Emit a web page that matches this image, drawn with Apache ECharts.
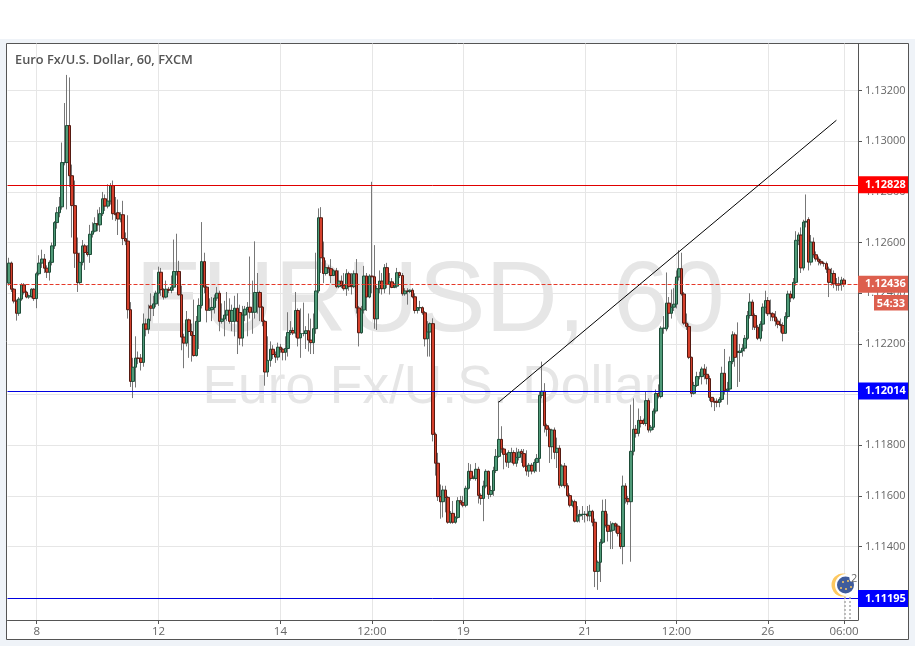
<!DOCTYPE html>
<html><head><meta charset="utf-8">
<style>html,body{margin:0;padding:0;background:#eff3f8}#c{width:915px;height:646px}</style>
<script src="https://cdn.jsdelivr.net/npm/echarts@6/dist/echarts.min.js"></script>
</head><body><div id="c"></div>
<script>
// Prices are written as points of 0.00001 above 1.10000 (2519 = 1.12519)
const opens=[2440,2519,2416,2369,2321,2377,2433,2404,2385,2387,
2416,2379,2477,2519,2535,2499,2483,2522,2587,2679,
2718,2741,2916,2916,3062,2864,2746,2558,2442,2522,
2587,2561,2553,2633,2645,2675,2670,2714,2773,2744,
2764,2825,2714,2718,2693,2710,2616,2606,2335,2052,
2108,2144,2144,2127,2279,2258,2350,2341,2358,2400,
2483,2414,2385,2416,2411,2424,2486,2486,2394,2227,
2203,2295,2249,2233,2154,2289,2352,2525,2424,2333,
2335,2344,2381,2400,2289,2298,2314,2333,2289,2289,
2341,2324,2223,2314,2337,2345,2325,2325,2403,2403,
2345,2289,2089,2135,2179,2158,2148,2187,2179,2167,
2182,2245,2253,2243,2332,2224,2241,2241,2252,2215,
2205,2260,2409,2698,2540,2478,2501,2497,2470,2489,
2426,2448,2430,2418,2477,2431,2426,2477,2342,2244,
2334,2468,2385,2468,2465,2299,2418,2448,2418,2501,
2435,2445,2423,2428,2481,2470,2398,2409,2407,2412,
2386,2332,2343,2343,2323,2220,2247,2280,1843,1729,
1597,1577,1623,1594,1496,1531,1496,1515,1581,1573,
1563,1630,1697,1669,1669,1705,1602,1590,1639,1697,
1606,1621,1700,1756,1823,1785,1764,1733,1771,1771,
1729,1752,1776,1767,1717,1698,1721,1698,1732,1748,
1997,2013,1877,1863,1794,1860,1772,1788,1642,1718,
1640,1601,1563,1577,1500,1521,1527,1527,1528,1521,
1539,1496,1302,1338,1417,1539,1484,1460,1464,1490,
1481,1452,1400,1639,1589,1577,1776,1863,1847,1898,
1897,1886,1976,1860,1871,1935,2004,1992,2262,2259,
2361,2321,2345,2357,2464,2497,2397,2282,2269,2147,
2005,2036,2071,2071,2101,2080,2063,1989,1972,1974,
1969,1981,2084,2015,2022,2130,2236,2170,2166,2172,
2183,2222,2312,2365,2312,2266,2222,2278,2345,2371,
2321,2319,2306,2290,2277,2273,2242,2308,2397,2381,
2443,2609,2630,2500,2681,2691,2523,2602,2552,2535,
2526,2519,2517,2495,2443,2478,2437,2437,2437,2452];
const closes=[2519,2416,2369,2321,2377,2433,2404,2385,2390,2416,
2379,2477,2519,2535,2499,2483,2522,2587,2679,2718,
2741,2916,2916,3062,2864,2746,2558,2442,2522,2587,
2561,2553,2633,2645,2675,2670,2714,2773,2744,2764,
2825,2714,2710,2693,2710,2616,2606,2335,2052,2108,
2144,2143,2127,2279,2258,2298,2341,2358,2400,2483,
2414,2385,2416,2411,2424,2486,2486,2394,2227,2203,
2295,2249,2233,2154,2289,2352,2525,2424,2333,2341,
2344,2381,2400,2289,2298,2314,2333,2289,2332,2341,
2289,2223,2314,2337,2344,2325,2325,2403,2403,2345,
2289,2089,2135,2179,2158,2148,2187,2179,2167,2182,
2245,2253,2243,2332,2223,2241,2241,2252,2215,2205,
2260,2409,2698,2540,2478,2501,2497,2470,2489,2426,
2448,2430,2418,2477,2426,2426,2477,2342,2244,2334,
2468,2385,2468,2465,2299,2418,2448,2418,2501,2435,
2445,2423,2428,2481,2470,2398,2409,2407,2412,2386,
2332,2343,2343,2323,2220,2247,2280,1843,1729,1597,
1577,1623,1594,1496,1531,1496,1514,1581,1573,1563,
1630,1697,1669,1671,1705,1602,1590,1639,1697,1606,
1621,1700,1756,1823,1785,1764,1733,1771,1771,1729,
1752,1773,1767,1717,1698,1721,1698,1732,1748,1997,
2013,1877,1863,1794,1860,1772,1788,1642,1718,1640,
1601,1563,1577,1500,1521,1527,1527,1527,1521,1539,
1496,1302,1338,1417,1539,1484,1460,1464,1490,1481,
1452,1400,1639,1589,1577,1776,1863,1847,1898,1886,
1886,1976,1860,1871,1935,2004,1994,2262,2262,2361,
2321,2345,2357,2464,2497,2397,2282,2269,2147,2005,
2036,2071,2071,2101,2080,2063,1989,1972,1970,1969,
1981,2084,2015,2022,2130,2236,2147,2166,2172,2183,
2222,2312,2365,2312,2266,2222,2278,2345,2371,2319,
2319,2306,2290,2277,2273,2242,2308,2397,2381,2443,
2609,2630,2500,2681,2684,2523,2602,2552,2535,2526,
2519,2517,2495,2443,2478,2437,2432,2432,2452,2436];
const lows=[2430,2405,2360,2292,2311,2370,2395,2380,2378,2380,
2370,2341,2470,2500,2480,2460,2450,2510,2575,2655,
2700,2730,2905,2731,2820,2620,2500,2405,2435,2510,
2492,2545,2520,2620,2640,2645,2642,2705,2725,2735,
2750,2690,2685,2630,2680,2590,2590,2300,2030,1986,
2028,2120,2095,2110,2230,2240,2290,2310,2345,2350,
2390,2375,2380,2400,2400,2410,2470,2390,2175,2104,
2190,2145,2130,2150,2150,2180,2340,2400,2285,2330,
2290,2320,2370,2250,2280,2230,2290,2280,2250,2230,
2160,2195,2190,2290,2230,2300,2240,2300,2320,2290,
2270,2035,2070,2110,2140,2125,2135,2165,2135,2135,
2150,2235,2235,2225,2190,2145,2230,2180,2170,2160,
2160,2240,2400,2480,2440,2470,2480,2440,2470,2420,
2420,2420,2410,2390,2410,2395,2420,2320,2190,2240,
2320,2330,2380,2400,2260,2255,2400,2395,2400,2420,
2395,2420,2420,2420,2460,2390,2390,2355,2400,2380,
2320,2320,2330,2315,2190,2150,2150,1815,1680,1580,
1510,1515,1535,1490,1490,1490,1490,1510,1565,1555,
1555,1625,1660,1665,1660,1570,1565,1500,1630,1588,
1595,1600,1690,1750,1770,1705,1715,1710,1730,1720,
1715,1740,1730,1710,1680,1675,1685,1690,1695,1695,
1985,1850,1835,1730,1745,1745,1710,1630,1635,1630,
1595,1555,1555,1495,1495,1495,1505,1495,1500,1500,
1480,1240,1229,1260,1410,1475,1420,1390,1390,1455,
1440,1390,1330,1570,1565,1340,1760,1830,1835,1870,
1880,1875,1850,1850,1860,1925,1985,1985,2240,2250,
2265,2300,2330,2340,2450,2390,2275,2255,2140,1990,
2000,2030,2060,2040,2060,2040,1975,1950,1935,1950,
1950,1970,2000,1960,2010,2120,2110,2030,2050,2150,
2170,2215,2300,2255,2255,2215,2210,2250,2320,2310,
2290,2290,2270,2262,2245,2210,2240,2300,2365,2375,
2430,2590,2480,2490,2660,2490,2510,2540,2525,2510,
2510,2505,2480,2385,2430,2420,2410,2410,2410,2425];
const highs=[2540,2525,2420,2375,2385,2440,2440,2410,2395,2420,
2420,2485,2550,2572,2555,2510,2530,2600,2685,2740,
2780,2995,3151,3262,3252,2908,2845,2620,2560,2610,
2595,2590,2670,2680,2700,2730,2740,2800,2790,2830,
2835,2845,2780,2770,2720,2765,2640,2708,2365,2145,
2230,2170,2160,2320,2300,2355,2400,2390,2410,2505,
2500,2420,2450,2425,2470,2612,2635,2528,2430,2240,
2330,2300,2280,2375,2310,2380,2681,2560,2430,2380,
2385,2395,2425,2410,2360,2370,2405,2380,2355,2390,
2400,2355,2350,2350,2365,2545,2450,2605,2480,2410,
2350,2295,2230,2210,2195,2170,2205,2200,2185,2230,
2325,2290,2265,2405,2340,2340,2363,2270,2320,2300,
2320,2560,2735,2740,2604,2530,2510,2535,2495,2500,
2490,2470,2480,2495,2485,2480,2490,2535,2350,2350,
2508,2480,2475,2840,2590,2430,2490,2480,2515,2520,
2480,2460,2440,2500,2485,2480,2420,2420,2415,2420,
2400,2345,2370,2348,2330,2290,2285,2301,1850,1770,
1645,1640,1640,1600,1540,1580,1520,1595,1600,1600,
1640,1730,1725,1680,1730,1715,1610,1660,1705,1700,
1640,1715,1785,1975,1875,1790,1770,1780,1790,1780,
1790,1785,1785,1785,1780,1730,1730,1745,1765,2010,
2130,2045,1885,1870,1865,1870,1830,1800,1725,1730,
1650,1610,1585,1585,1560,1545,1560,1540,1560,1565,
1545,1510,1345,1430,1585,1587,1530,1500,1495,1495,
1490,1480,1680,1650,1600,1960,1985,1880,1945,1915,
1905,2010,1985,1880,1945,2020,2040,2270,2310,2482,
2385,2415,2420,2490,2570,2560,2405,2320,2280,2150,
2050,2090,2090,2110,2120,2110,2075,1990,1985,1985,
1990,2110,2180,2050,2150,2250,2245,2285,2200,2200,
2235,2330,2400,2375,2320,2275,2290,2360,2410,2385,
2375,2325,2330,2300,2300,2285,2325,2410,2410,2460,
2645,2640,2660,2690,2790,2700,2630,2620,2565,2545,
2535,2525,2525,2505,2500,2490,2460,2465,2465,2460];
const tickIndices=[11,59,107,143,179,227,263,299,329];
const tickLabels=['8','12','14','12:00','19','21','12:00','26','06:00'];
const priceTicks=[1.114,1.116,1.118,1.12,1.122,1.124,1.126,1.128,1.13,1.132];
const barSlots=335;
const resistance=1.12828, support=1.12014, lowerSupport=1.11195, lastPrice=1.12436;
const trendStart=[193,1.1197], trendEnd=[326,1.13083];
const countdown='54:33';
const titleText='Euro Fx/U.S. Dollar, 60, FXCM';

const P=v=>+(1.1+v/100000).toFixed(5);
const categories=Array.from({length:barSlots},(_,i)=>{const k=tickIndices.indexOf(i);return k>=0?tickLabels[k]:'';});
const wicks=opens.map((o,i)=>[P(o),P(closes[i]),P(lows[i]),P(highs[i])]);
const bodies=opens.map((o,i)=>[P(o),P(closes[i]),P(Math.min(o,closes[i])),P(Math.max(o,closes[i]))]);
const isTick=i=>tickIndices.includes(i);
const FONT='"Open Sans","Noto Sans",sans-serif';
const levelLine=(v,color,type,bg)=>({yAxis:v,lineStyle:{color,width:1,type},
  label:{show:true,position:'end',distance:0,formatter:v.toFixed(5),color:'#fff',fontFamily:FONT,fontSize:11,fontWeight:700,
  backgroundColor:bg,padding:[4,3,2,7],width:40,align:'left'}});

const chart=echarts.init(document.getElementById('c'),null,{renderer:'canvas'});
chart.setOption({
 animation:false,backgroundColor:'#eff3f8',
 grid:{left:7.5,top:43.5,width:850.5,height:576.5,containLabel:false},
 xAxis:{type:'category',data:categories,boundaryGap:true,
  axisLine:{show:true,lineStyle:{color:'#555',width:1}},
  axisTick:{show:true,alignWithLabel:true,interval:isTick,length:4,lineStyle:{color:'#555'}},
  axisLabel:{interval:isTick,color:'#666',fontFamily:FONT,fontSize:11.5,margin:6,hideOverlap:false},
  splitLine:{show:true,alignWithLabel:true,interval:isTick,lineStyle:{color:'#e6e6e6',width:1}}},
 yAxis:{type:'value',position:'right',min:1.1111,max:1.13386,scale:true,
  axisLine:{show:true,lineStyle:{color:'#555',width:1}},
  axisTick:{show:true,length:4,customValues:priceTicks,lineStyle:{color:'#555'}},
  axisLabel:{color:'#666',fontFamily:FONT,fontSize:11,margin:7,padding:[2,0,0,0],customValues:priceTicks,formatter:v=>v.toFixed(5)},
  splitLine:{show:true,lineStyle:{color:'#e6e6e6',width:1}}},
 series:[
  {type:'candlestick',name:'wick',data:wicks,barWidth:1,z:2,
   itemStyle:{color:'#777',color0:'#777',borderColor:'#777',borderColor0:'#777',borderWidth:1}},
  {type:'candlestick',name:'body',data:bodies,barWidth:3,z:3,
   itemStyle:{color:'#4f9a78',color0:'#d5402c',borderColor:'#1d4d38',borderColor0:'#551a12',borderWidth:1}},
  {type:'line',name:'levels',data:[],z:5,
   markLine:{silent:true,symbol:'none',animation:false,precision:5,
    data:[
     levelLine(resistance,'#e00000','solid','#ff0000'),
     levelLine(support,'#0000e0','solid','#0000ff'),
     levelLine(lowerSupport,'#0000e0','solid','#0000ff'),
     levelLine(lastPrice,'#e53a2a','dashed','#dd5f4e'),
     [{coord:trendStart,lineStyle:{color:'#000',width:1,type:'solid'},label:{show:false}},{coord:trendEnd}]
    ]}}
 ],
 graphic:{elements:[
  {type:'rect',z:-30,shape:{x:0,y:0,width:915,height:39},style:{fill:'#fff'},silent:true},
  {type:'rect',z:-25,shape:{x:6.5,y:43.5,width:902,height:596},style:{fill:'#fff',stroke:'#555',lineWidth:1},silent:true},
  {type:'text',z:-10,x:430,y:303,style:{text:'EURUSD, 60',fill:'#e6e6e6',font:'100px "Liberation Sans"',textAlign:'center',textVerticalAlign:'middle'},silent:true},
  {type:'text',z:-10,x:432,y:388,style:{text:'Euro Fx/U.S. Dollar',fill:'#e6e6e6',font:'53.3px "Liberation Sans"',textAlign:'center',textVerticalAlign:'middle'},silent:true},
  {type:'text',z:50,x:15,y:54,style:{text:titleText,fill:'#555',font:'600 12.8px '+FONT},silent:true},
  {type:'rect',z:60,shape:{x:874,y:295,width:34,height:15.5},style:{fill:'#dd5f4e'},silent:true},
  {type:'text',z:61,x:891,y:303.5,style:{text:countdown,fill:'#fff',font:'700 11px '+FONT,textAlign:'center',textVerticalAlign:'middle'},silent:true},
  {type:'line',z:20,shape:{x1:845,y1:597,x2:845,y2:620},style:{stroke:'#aaa',lineWidth:1.5,lineDash:[2,2]},silent:true},
  {type:'line',z:20,shape:{x1:850,y1:597,x2:850,y2:620},style:{stroke:'#aaa',lineWidth:1.5,lineDash:[2,2]},silent:true},
  {type:'circle',z:21,shape:{cx:843,cy:585,r:11.5},style:{fill:'#fdc860'},silent:true},
  {type:'circle',z:22,shape:{cx:846,cy:585,r:11},style:{fill:'#fff'},silent:true},
  {type:'circle',z:23,shape:{cx:845.5,cy:585,r:8.5},style:{fill:'#3f5c9c'},silent:true},
  {type:'circle',z:24,shape:{cx:853,cy:578.5,r:3.5},style:{fill:'#fff'},silent:true},
  {type:'circle',z:24,shape:{cx:843,cy:582,r:1},style:{fill:'#fdc860'},silent:true},
  {type:'circle',z:24,shape:{cx:848,cy:581,r:1},style:{fill:'#fdc860'},silent:true},
  {type:'circle',z:24,shape:{cx:841,cy:588,r:1},style:{fill:'#fdc860'},silent:true},
  {type:'circle',z:24,shape:{cx:846,cy:589,r:1},style:{fill:'#fdc860'},silent:true},
  {type:'circle',z:24,shape:{cx:851,cy:587,r:1},style:{fill:'#fdc860'},silent:true},
  {type:'text',z:25,x:851,y:573,style:{text:'2',fill:'#666',font:'11px '+FONT},silent:true}
 ]}
});
</script></body></html>
